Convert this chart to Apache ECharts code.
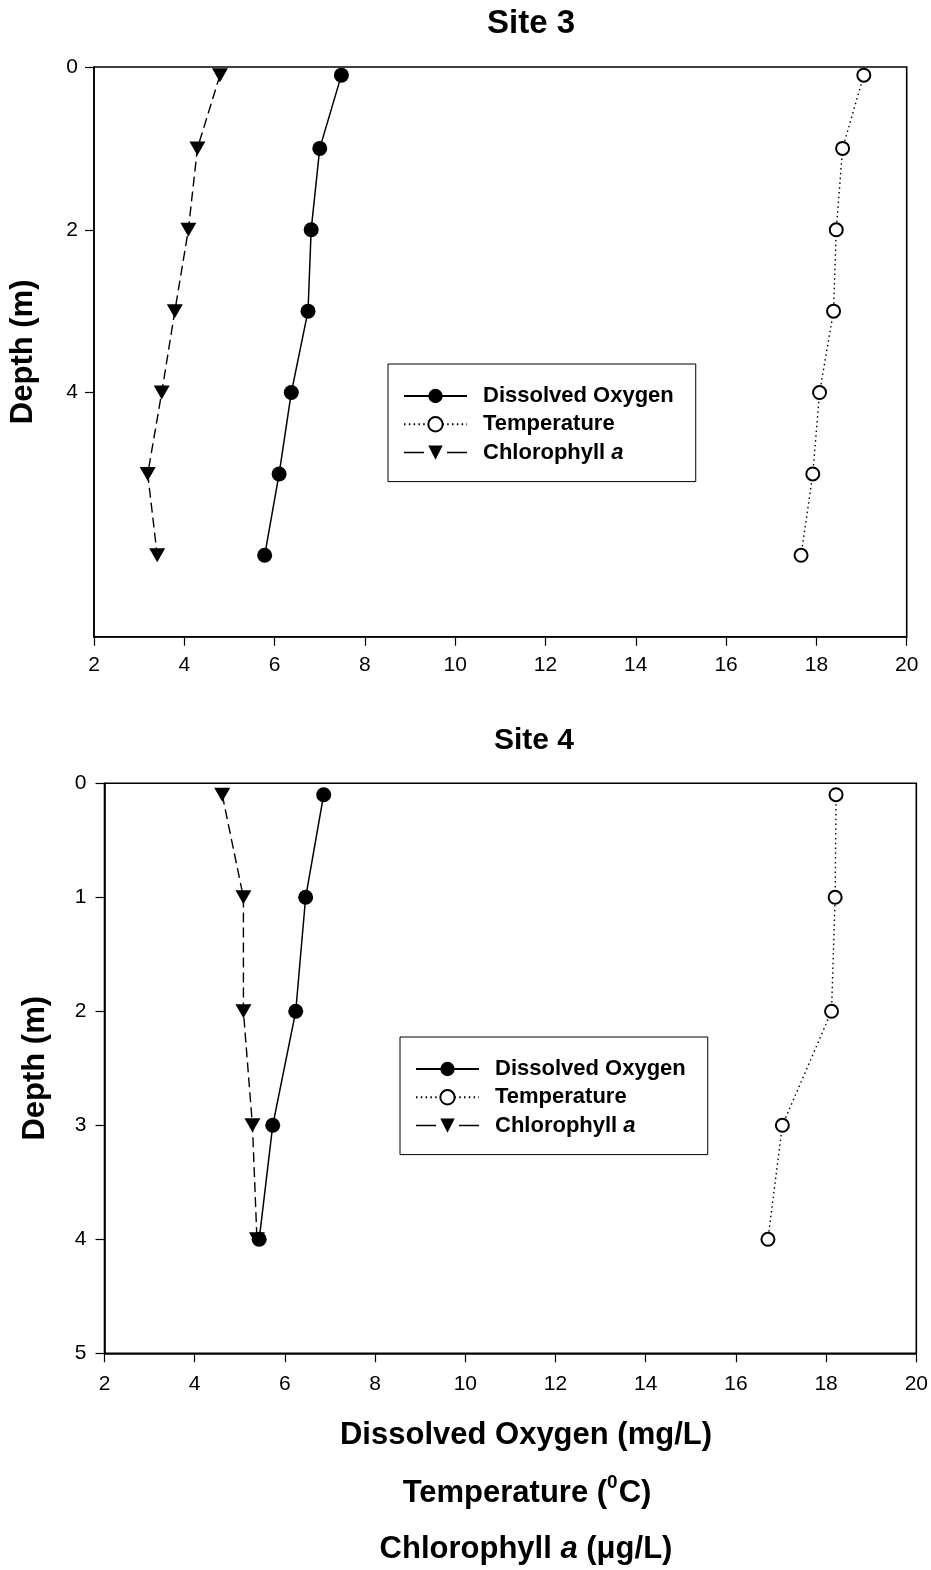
<!DOCTYPE html>
<html>
<head>
<meta charset="utf-8">
<script src="https://cdn.jsdelivr.net/npm/echarts@6/dist/echarts.min.js"></script>
<style>
html,body{margin:0;padding:0;background:#fff;}
#chart{width:931px;height:1570px;}
</style>
</head>
<body>
<div id="chart"></div>
<script>
// ---- Data ----
const seriesNames = ['Dissolved Oxygen', 'Temperature', 'Chlorophyll a'];

// Site 3
const depth3 = [0.1, 1, 2, 3, 4, 5, 6];
const oxygen3 = [7.48, 7.00, 6.81, 6.74, 6.37, 6.10, 5.78];
const temperature3 = [19.05, 18.58, 18.44, 18.38, 18.07, 17.92, 17.66];
const chlorophyll3 = [4.79, 4.29, 4.09, 3.79, 3.50, 3.19, 3.40];
const yTicks3 = [0, 2, 4, 6];

// Site 4
const depth4 = [0.1, 1, 2, 3, 4];
const oxygen4 = [6.86, 6.46, 6.24, 5.73, 5.43];
const temperature4 = [18.22, 18.20, 18.12, 17.03, 16.71];
const chlorophyll4 = [4.61, 5.08, 5.08, 5.28, 5.38];
const yTicks4 = [0, 1, 2, 3, 4, 5];

const xTicks = [2, 4, 6, 8, 10, 12, 14, 16, 18, 20];

// ---- Helpers ----
const FONT = '"Liberation Sans", Arial, Helvetica, sans-serif';
const pairs = (xs, ds) => ds.map((d, i) => [xs[i], d]);

function makeSeries(idx, xs, ds) {
  const common = { xAxisIndex: idx, yAxisIndex: idx, z: 3 };
  return [
    Object.assign({
      name: seriesNames[0], type: 'line', data: pairs(xs[0], ds),
      symbol: 'circle', symbolSize: 15,
      itemStyle: { color: '#000' },
      lineStyle: { color: '#000', width: 1.5, type: 'solid' }
    }, common),
    Object.assign({
      name: seriesNames[1], type: 'line', data: pairs(xs[1], ds),
      symbol: 'emptyCircle', symbolSize: 13,
      itemStyle: { color: '#000', borderWidth: 1.6 },
      lineStyle: { color: '#000', width: 1.4, type: [1.5, 3.3] }
    }, common),
    Object.assign({
      name: seriesNames[2], type: 'line', data: pairs(xs[2], ds),
      symbol: 'triangle', symbolSize: [16, 14], symbolRotate: 180,
      itemStyle: { color: '#000' },
      lineStyle: { color: '#000', width: 1.4, type: [10, 5] }
    }, common)
  ];
}

function xAxis(gridIndex, margin) {
  return {
    gridIndex, type: 'value', min: 2, max: 20, interval: 2, position: 'bottom',
    axisLine: { show: true, onZero: false, lineStyle: { color: '#000', width: 1.6 } },
    axisTick: { show: true, inside: false, length: 9, lineStyle: { color: '#000', width: 1.2 }, customValues: xTicks },
    axisLabel: { color: '#000', fontSize: 21, fontFamily: FONT, margin, customValues: xTicks },
    splitLine: { show: false }
  };
}

function yAxis(gridIndex, max, ticks, margin, nameGap) {
  return {
    gridIndex, type: 'value', inverse: true, min: 0, max, interval: 1,
    name: 'Depth (m)', nameLocation: 'middle', nameGap,
    nameTextStyle: { color: '#000', fontSize: 31, fontWeight: 'bold', fontFamily: FONT },
    axisLine: { show: true, onZero: false, lineStyle: { color: '#000', width: 1.6 } },
    axisTick: { show: true, inside: false, length: 9, lineStyle: { color: '#000', width: 1.2 }, customValues: ticks },
    axisLabel: { color: '#000', fontSize: 21, fontFamily: FONT, margin, customValues: ticks, showMaxLabel: ticks.indexOf(max) >= 0 },
    splitLine: { show: false }
  };
}

function legend(left, top) {
  return {
    left, top, orient: 'vertical', selectedMode: false,
    padding: [20, 22, 17, 15],
    itemWidth: 63, itemHeight: 18, itemGap: 4.3,
    borderColor: '#000', borderWidth: 1, backgroundColor: '#fff',
    data: [
      { name: seriesNames[0] },
      { name: seriesNames[1] },
      { name: seriesNames[2], lineStyle: { type: [20, 23], width: 1.5, color: '#000' } }
    ],
    formatter: function (name) {
      return name === 'Chlorophyll a' ? '{n|Chlorophyll }{i|a}' : name;
    },
    textStyle: {
      color: '#000', fontSize: 22, fontWeight: 'bold', fontFamily: FONT, lineHeight: 24,
      padding: [0, 0, 0, 11],
      rich: {
        n: { color: '#000', fontSize: 22, fontWeight: 'bold', fontFamily: FONT, lineHeight: 24 },
        i: { color: '#000', fontSize: 22, fontWeight: 'bold', fontStyle: 'italic', fontFamily: FONT, lineHeight: 24 }
      }
    }
  };
}

const chart = echarts.init(document.getElementById('chart'), null, { renderer: 'canvas' });

const option = {
  backgroundColor: '#fff',
  animation: false,
  grid: [
    { left: 94, top: 67, width: 812.7, height: 569.7, show: true, borderColor: '#000', borderWidth: 1.6, backgroundColor: 'transparent' },
    { left: 104.5, top: 783.3, width: 813, height: 570, show: true, borderColor: '#000', borderWidth: 1.6, backgroundColor: 'transparent' }
  ],
  xAxis: [xAxis(0, 18), xAxis(1, 20)],
  yAxis: [yAxis(0, 7, yTicks3, 16, 55), yAxis(1, 5, yTicks4, 18, 54)],
  legend: [legend(388, 364), legend(400, 1037)],
  series: [].concat(
    makeSeries(0, [oxygen3, temperature3, chlorophyll3], depth3),
    makeSeries(1, [oxygen4, temperature4, chlorophyll4], depth4)
  ),
  graphic: [
    { type: 'text', x: 531, y: 24, style: { text: 'Site 3', fill: '#000', fontSize: 33, fontWeight: 'bold', fontFamily: FONT, align: 'center', verticalAlign: 'middle' } },
    { type: 'text', x: 534, y: 741, style: { text: 'Site 4', fill: '#000', fontSize: 30, fontWeight: 'bold', fontFamily: FONT, align: 'center', verticalAlign: 'middle' } },
    { type: 'text', x: 526, y: 1435, style: { text: 'Dissolved Oxygen (mg/L)', fill: '#000', fontSize: 31, fontWeight: 'bold', fontFamily: FONT, align: 'center', verticalAlign: 'middle' } },
    { type: 'text', x: 527, y: 1491, style: {
        text: '{m|Temperature (}{s|0}{m|C)}', align: 'center', verticalAlign: 'middle',
        rich: {
          m: { fill: '#000', fontSize: 31, fontWeight: 'bold', fontFamily: FONT, lineHeight: 36, verticalAlign: 'bottom' },
          s: { fill: '#000', fontSize: 19, fontWeight: 'bold', fontFamily: FONT, lineHeight: 36, verticalAlign: 'top', padding: [0, 1, 0, 0] }
        } } },
    { type: 'text', x: 526, y: 1549, style: {
        text: '{m|Chlorophyll }{i|a}{m| (μg/L)}', align: 'center', verticalAlign: 'middle',
        rich: {
          m: { fill: '#000', fontSize: 31, fontWeight: 'bold', fontFamily: FONT },
          i: { fill: '#000', fontSize: 31, fontWeight: 'bold', fontStyle: 'italic', fontFamily: FONT }
        } } }
  ]
};

chart.setOption(option);
</script>
</body>
</html>
